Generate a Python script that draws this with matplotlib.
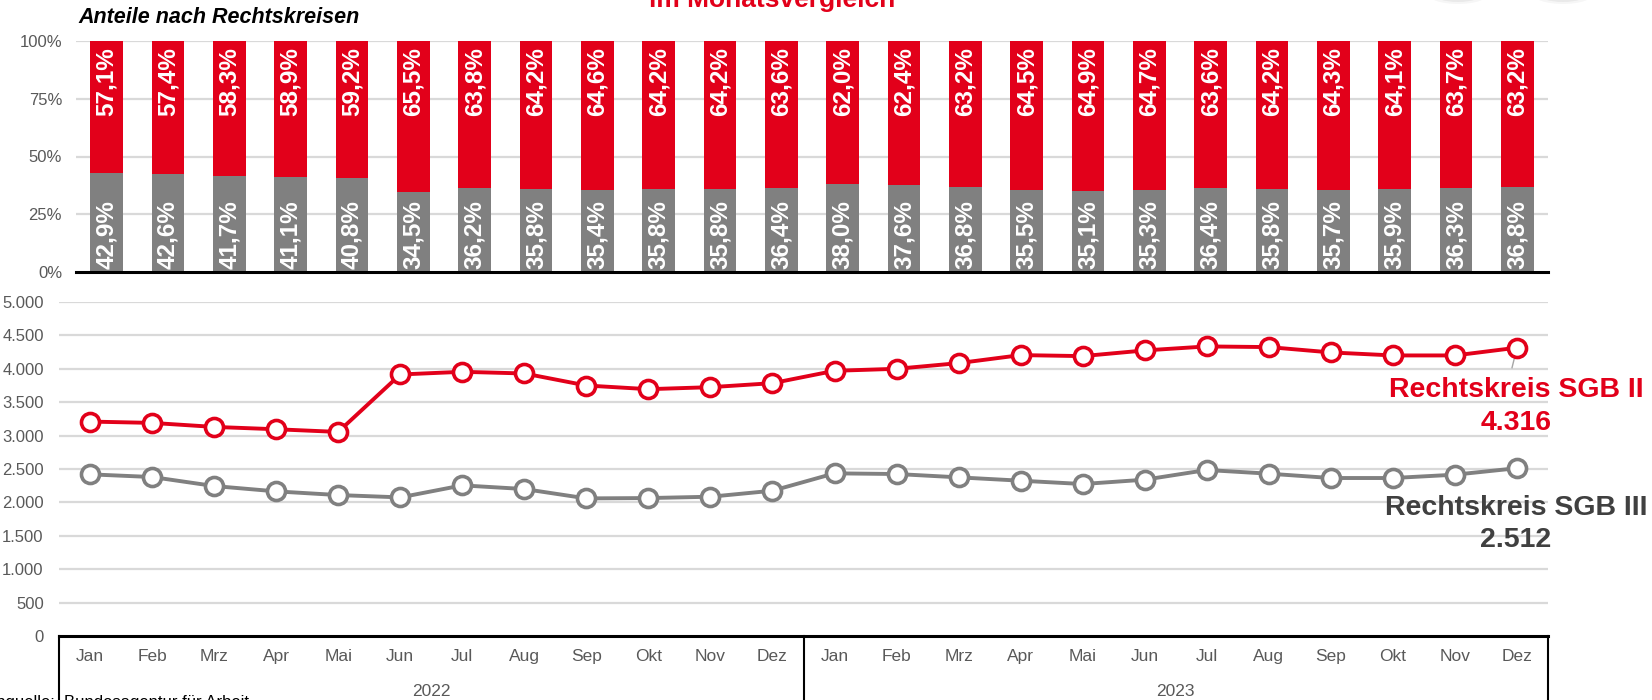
import matplotlib
matplotlib.use("Agg")
import matplotlib.pyplot as plt
from matplotlib.patches import Ellipse
import numpy as np

plt.rcParams['font.family'] = ['Liberation Sans', 'DejaVu Sans']

# ---------------- data ----------------
months = ["Jan", "Feb", "Mrz", "Apr", "Mai", "Jun", "Jul", "Aug", "Sep", "Okt", "Nov", "Dez",
          "Jan", "Feb", "Mrz", "Apr", "Mai", "Jun", "Jul", "Aug", "Sep", "Okt", "Nov", "Dez"]
years = ["2022", "2023"]

share_sgb2 = [57.1, 57.4, 58.3, 58.9, 59.2, 65.5, 63.8, 64.2, 64.6, 64.2, 64.2, 63.6,
              62.0, 62.4, 63.2, 64.5, 64.9, 64.7, 63.6, 64.2, 64.3, 64.1, 63.7, 63.2]
share_sgb3 = [42.9, 42.6, 41.7, 41.1, 40.8, 34.5, 36.2, 35.8, 35.4, 35.8, 35.8, 36.4,
              38.0, 37.6, 36.8, 35.5, 35.1, 35.3, 36.4, 35.8, 35.7, 35.9, 36.3, 36.8]

sgb2 = [3210, 3190, 3130, 3095, 3055, 3915, 3955, 3930, 3750, 3695, 3725, 3785,
        3970, 4000, 4085, 4205, 4190, 4275, 4335, 4325, 4245, 4200, 4200, 4316]
sgb3 = [2420, 2380, 2245, 2165, 2110, 2075, 2255, 2200, 2060, 2065, 2085, 2175,
        2435, 2425, 2375, 2325, 2275, 2340, 2485, 2430, 2365, 2365, 2415, 2512]

pct_ticks = [0, 25, 50, 75, 100]
abs_ticks = [0, 500, 1000, 1500, 2000, 2500, 3000, 3500, 4000, 4500, 5000]

RED = "#E2001A"
GREY = "#808080"
DARK = "#404040"
TICK = "#595959"
GRID = "#D9D9D9"

W, H = 1652, 700
fig = plt.figure(figsize=(W / 100, H / 100), dpi=100)


def box(l, t, r, b):
    return [l / W, 1 - b / H, (r - l) / W, (b - t) / H]


x = np.arange(len(months))

# ---------------- top: stacked shares ----------------
ax1 = fig.add_axes(box(76, 41, 1548, 272))
for v in pct_ticks[1:]:
    ax1.axhline(v, color=GRID, lw=1.6, zorder=0)
ax1.bar(x, share_sgb3, width=0.53, color=GREY, zorder=2)
ax1.bar(x, share_sgb2, width=0.53, bottom=share_sgb3, color=RED, zorder=2)
for i in range(len(x)):
    g = share_sgb3[i]
    r = share_sgb2[i]
    ax1.annotate(f"{g:.1f}%".replace(".", ","), (x[i], 0), xytext=(0, 3), textcoords="offset pixels",
                 rotation=90, ha="center", va="bottom", color="white", fontsize=17.5,
                 fontweight="bold", zorder=3)
    ax1.annotate(f"{r:.1f}%".replace(".", ","), (x[i], 100), xytext=(0, -6), textcoords="offset pixels",
                 rotation=90, ha="center", va="top", color="white", fontsize=17.5,
                 fontweight="bold", zorder=3)
ax1.set_xlim(-0.5, len(x) - 0.5)
ax1.set_ylim(0, 100)
ax1.set_yticks(pct_ticks)
ax1.set_yticklabels([f"{v}%" for v in pct_ticks], color=TICK, fontsize=12)
ax1.tick_params(axis="y", length=0, pad=10)
ax1.set_xticks([])
for s in ["top", "right", "left"]:
    ax1.spines[s].set_visible(False)
ax1.spines["bottom"].set_color("black")
ax1.spines["bottom"].set_linewidth(2.2)
ax1.spines["bottom"].set_zorder(4)

# ---------------- bottom: absolute values ----------------
ax2 = fig.add_axes(box(59, 302, 1548, 636))
for v in abs_ticks[1:]:
    ax2.axhline(v, color=GRID, lw=1.6, zorder=0)
ax2.plot(x, sgb3, color=GREY, lw=2.8, marker="o", ms=13, mfc="white", mec=GREY, mew=2.6, zorder=3,
         clip_on=False)
ax2.plot(x, sgb2, color=RED, lw=2.8, marker="o", ms=13, mfc="white", mec=RED, mew=2.6, zorder=4,
         clip_on=False)
ax2.set_xlim(-0.5, len(x) - 0.5)
ax2.set_ylim(0, 5000)
ax2.set_yticks(abs_ticks)
ax2.set_yticklabels([f"{v:,}".replace(",", ".") for v in abs_ticks], color=TICK, fontsize=12)
ax2.tick_params(axis="y", length=0, pad=11)
ax2.set_xticks([])
for s in ["top", "right", "left", "bottom"]:
    ax2.spines[s].set_visible(False)

# category box
xt = ax2.get_xaxis_transform()
ax2.plot([-0.5, len(x) - 0.5], [0, 0], transform=xt, color="black", lw=2.2, clip_on=False, zorder=5)
for xv in [-0.5, 11.5, len(x) - 0.5]:
    ax2.plot([xv, xv], [0, -0.3], transform=xt, color="black", lw=1.5, clip_on=False, zorder=5)
for i, m in enumerate(months):
    ax2.text(x[i], -0.062, m, transform=xt, ha="center", va="center", color=TICK, fontsize=12.5)
for j, yl in enumerate(years):
    ax2.text(5.5 + 12 * j, -0.165, yl, transform=xt, ha="center", va="center", color=TICK, fontsize=12.5)

# end labels
ax2.plot([x[-1], x[-1] - 0.08], [sgb2[-1], sgb2[-1] - 300], color="#A6A6A6", lw=1, zorder=2)
fig.text(1516 / W, 1 - 390 / H, "Rechtskreis SGB II", ha="center", va="center",
         color=RED, fontsize=20.5, fontweight="bold")
fig.text(1516 / W, 1 - 423 / H, f"{sgb2[-1]:,}".replace(",", "."), ha="center", va="center",
         color=RED, fontsize=20.5, fontweight="bold")
fig.text(1516 / W, 1 - 508 / H, "Rechtskreis SGB III", ha="center", va="center",
         color=DARK, fontsize=20.5, fontweight="bold")
fig.text(1516 / W, 1 - 540 / H, f"{sgb3[-1]:,}".replace(",", "."), ha="center", va="center",
         color=DARK, fontsize=20.5, fontweight="bold")

# titles
fig.text(772 / W, 1 - 7 / H, "im Monatsvergleich", ha="center", va="baseline",
         color=RED, fontsize=19, fontweight="bold")
fig.text(78 / W, 1 - 23 / H, "Anteile nach Rechtskreisen", ha="left", va="baseline",
         color="black", fontsize=15.5, fontweight="bold", fontstyle="italic")

# source line (cut at bottom)
fig.text(55 / W, 1 - 695 / H, "Datenquelle:", ha="right", va="top", color="black", fontsize=12)
fig.text(64 / W, 1 - 695 / H, "Bundesagentur für Arbeit", ha="left", va="top", color="black", fontsize=12)

# faint icon shadows at top right
for cx in [1458, 1563]:
    for k, a in enumerate([0.05, 0.08, 0.12]):
        e = Ellipse((cx / W, 1 + 6 / H), (60 - 12 * k) / W, (20 - 4 * k) / H,
                    transform=fig.transFigure, color="#555555", alpha=a, lw=0)
        fig.patches.append(e)

fig.savefig("out.png", dpi=100)
